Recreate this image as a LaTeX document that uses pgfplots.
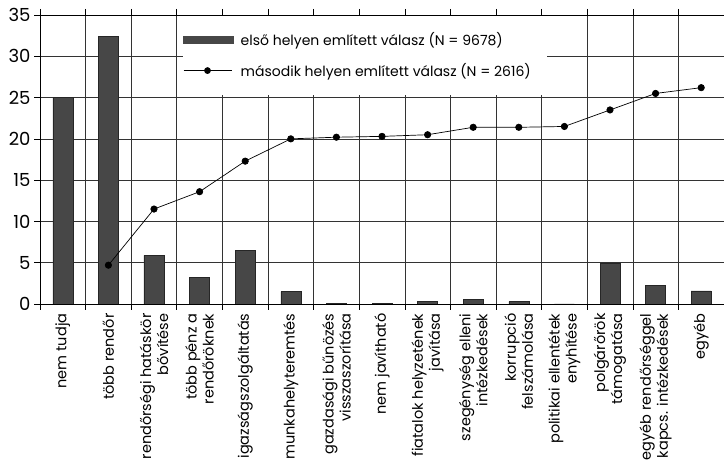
\documentclass[border=0pt]{standalone}
\usepackage{pgfplots}
\pgfplotsset{compat=1.18}
\usepackage{fontspec}
\setmainfont{Poppins}

\begin{document}
\begin{tikzpicture}
\begin{axis}[
  name=ax,
  scale only axis,
  width=684pt, height=289pt,
  xmin=0.5, xmax=15.5,
  ymin=0, ymax=35,
  ytick={0,5,...,35},
  xtick={1,...,15},
  minor xtick={0.5,1.5,...,15.5},
  xticklabels={nem tudja, több rendőr, {rendőrségi hatáskör\\bővítése},
    {több pénz a\\rendőröknek}, igazságszolgáltatás, munkahelyteremtés,
    {gazdasági bűnözés\\visszaszorítása}, nem javítható,
    {fiatalok helyzetének\\javítása}, {szegénység elleni\\intézkedések},
    {korrupció\\felszámolása}, {politikai ellentétek\\enyhítése},
    {polgárőrök\\támogatása}, {egyéb rendőrséggel\\kapcs. intézkedések}, egyéb},
  xticklabel style={rotate=90, anchor=east, align=right,
    font=\fontsize{14.5}{17}\selectfont},
  yticklabel style={font=\fontsize{18}{20}\selectfont},
  /pgf/number format/assume math mode=true,
  ymajorgrids, xminorgrids,
  grid style={black!80, line width=0.6pt},
  minor grid style={black!80, line width=0.6pt},
  major x tick style={draw=none},
  tick align=outside,
  major tick length=6pt, minor tick length=6pt,
  tick style={black, line width=0.6pt},
  axis line style={black, line width=0.8pt},
  legend style={at={(0.209,0.955)}, anchor=north west, draw=none, fill=none,
    inner xsep=0pt, inner ysep=2pt, row sep=12.5pt,
    /tikz/every odd column/.append style={column sep=5pt},
    font=\fontsize{14}{16}\selectfont},
  legend cell align=left,
]
% white box behind the legend
\fill[white] (rel axis cs:0.209,0.723) rectangle (rel axis cs:0.741,0.997);

\addplot[ybar, bar width=20pt, fill=black!72, draw=black!85,
  legend image code/.code={\fill[black!72] (0pt,-3.5pt) rectangle (50pt,3.5pt);}]
  coordinates {
  (1,25.0)(2,32.4)(3,5.9)(4,3.2)(5,6.5)(6,1.5)(7,0.1)(8,0.1)
  (9,0.3)(10,0.6)(11,0.3)(12,0)(13,4.9)(14,2.3)(15,1.6)
};
\addlegendentry{első helyen említett válasz (N = 9678)}

\addplot[black, line width=0.7pt, mark=*, mark size=3.2pt,
  legend image code/.code={\draw[black, line width=0.7pt] (0pt,0pt) -- (48pt,0pt);
    \fill[black] (24pt,0pt) circle (3pt);}]
  coordinates {
  (2,4.7)(3,11.5)(4,13.6)(5,17.3)(6,20.0)(7,20.2)(8,20.3)(9,20.5)
  (10,21.4)(11,21.4)(12,21.5)(13,23.5)(14,25.5)(15,26.2)
};
\addlegendentry{második helyen említett válasz (N = 2616)}
\end{axis}
\pgfresetboundingbox
\useasboundingbox (ax.south west) ++(-40pt,-156pt) rectangle ++(724pt,460pt);
\end{tikzpicture}
\end{document}
